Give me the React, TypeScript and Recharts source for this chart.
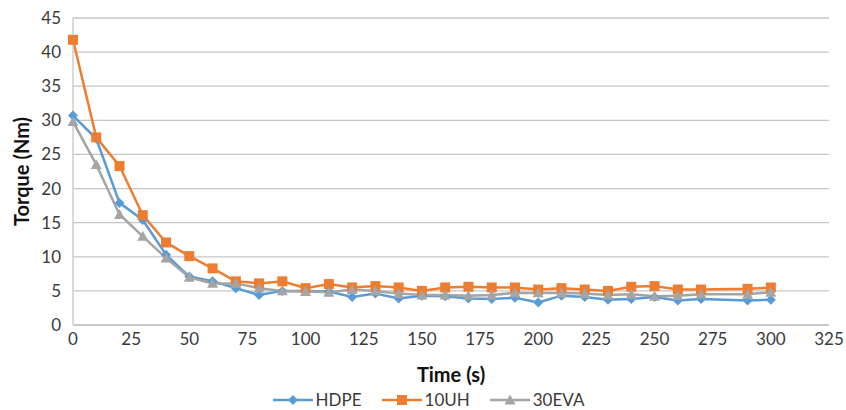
import { LineChart, Line, XAxis, YAxis, CartesianGrid, Legend } from 'recharts'

const times = [0, 10, 20, 30, 40, 50, 60, 70, 80, 90, 100, 110, 120, 130, 140, 150, 160, 170, 180, 190, 200, 210, 220, 230, 240, 250, 260, 270, 290, 300]
const hdpe = [30.7, 27.3, 17.9, 15.4, 10.3, 7.1, 6.4, 5.4, 4.4, 5.0, 5.0, 4.9, 4.1, 4.6, 3.9, 4.3, 4.2, 3.9, 3.8, 4.0, 3.3, 4.3, 4.1, 3.7, 3.8, 4.1, 3.6, 3.8, 3.6, 3.7]
const uh10 = [41.8, 27.5, 23.3, 16.1, 12.1, 10.1, 8.3, 6.4, 6.1, 6.4, 5.4, 6.0, 5.5, 5.7, 5.5, 5.0, 5.5, 5.6, 5.5, 5.5, 5.2, 5.4, 5.2, 5.0, 5.6, 5.7, 5.2, 5.2, 5.3, 5.5]
const eva30 = [29.8, 23.5, 16.2, 13.0, 9.8, 7.0, 6.1, 6.1, 5.4, 5.0, 4.9, 4.8, 5.2, 5.0, 4.6, 4.4, 4.4, 4.3, 4.4, 4.7, 4.7, 4.7, 4.6, 4.4, 4.5, 4.2, 4.3, 4.5, 4.5, 4.8]

const xTicks = [0, 25, 50, 75, 100, 125, 150, 175, 200, 225, 250, 275, 300, 325]
const yTicks = [0, 5, 10, 15, 20, 25, 30, 35, 40, 45]

const data = times.map((t, i) => ({ t, HDPE: hdpe[i], '10UH': uh10[i], '30EVA': eva30[i] }))

const FONT = 'Lato, "Open Sans", sans-serif'
const GRID = '#c6c6c6'
const TEXT = '#3a3a3a'
const COLORS = { HDPE: '#5B9BD5', '10UH': '#ED7D31', '30EVA': '#A5A5A5' }

type DotProps = { cx?: number; cy?: number; key?: string }

function Diamond({ cx, cy, fill }: DotProps & { fill: string }) {
  if (cx == null || cy == null) return null
  const r = 5
  return <path d={`M${cx},${cy - r}L${cx + r},${cy}L${cx},${cy + r}L${cx - r},${cy}Z`} fill={fill} />
}

function Square({ cx, cy, fill }: DotProps & { fill: string }) {
  if (cx == null || cy == null) return null
  const r = 5
  return <rect x={cx - r} y={cy - r} width={r * 2} height={r * 2} fill={fill} />
}

function Triangle({ cx, cy, fill }: DotProps & { fill: string }) {
  if (cx == null || cy == null) return null
  const r = 5.5
  return <path d={`M${cx},${cy - r}L${cx + r},${cy + r * 0.8}L${cx - r},${cy + r * 0.8}Z`} fill={fill} />
}

function LegendIcon({ kind, color }: { kind: string; color: string }) {
  return (
    <svg width={40} height={14} style={{ marginRight: 3 }}>
      <line x1={0} y1={7} x2={40} y2={7} stroke={color} strokeWidth={2.5} />
      {kind === 'diamond' && <Diamond cx={20} cy={7} fill={color} />}
      {kind === 'square' && <Square cx={20} cy={7} fill={color} />}
      {kind === 'triangle' && <Triangle cx={20} cy={7} fill={color} />}
    </svg>
  )
}

function ChartLegend() {
  const items = [
    { name: 'HDPE', kind: 'diamond' },
    { name: '10UH', kind: 'square' },
    { name: '30EVA', kind: 'triangle' },
  ]
  return (
    <div style={{ display: 'flex', justifyContent: 'center', alignItems: 'center', fontFamily: FONT, fontSize: 17, lineHeight: '17px', color: TEXT, paddingTop: 6, paddingLeft: 28 }}>
      {items.map(it => (
        <div key={it.name} style={{ display: 'flex', alignItems: 'center', margin: '0 10px' }}>
          <LegendIcon kind={it.kind} color={COLORS[it.name as keyof typeof COLORS]} />
          <span>{it.name}</span>
        </div>
      ))}
    </div>
  )
}

export default function App() {
  return (
    <div style={{ position: 'absolute', left: 0, top: 0, background: '#fff' }}>
      <LineChart width={846} height={410} data={data} margin={{ top: 18, right: 17, left: 0, bottom: 0 }}>
        <CartesianGrid vertical={false} stroke={GRID} strokeWidth={1.3} />
        <XAxis
          dataKey="t"
          type="number"
          domain={[0, 325]}
          ticks={xTicks}
          interval={0}
          tickLine={false}
          axisLine={{ stroke: GRID, strokeWidth: 1.3 }}
          tick={{ fontSize: 17, fill: TEXT, fontFamily: FONT }}
          height={60}
          label={{ value: 'Time (s)', position: 'insideBottom', offset: 3, style: { fontSize: 20, fontWeight: 700, fill: '#111', fontFamily: FONT } }}
        />
        <YAxis
          domain={[0, 45]}
          ticks={yTicks}
          interval={0}
          tickLine={false}
          axisLine={{ stroke: GRID, strokeWidth: 1.3 }}
          tick={{ fontSize: 17, fill: TEXT, fontFamily: FONT }}
          tickMargin={6}
          width={73}
          label={{ value: 'Torque (Nm)', angle: -90, position: 'insideLeft', offset: 22, style: { textAnchor: 'middle', fontSize: 20, fontWeight: 700, fill: '#111', fontFamily: FONT } }}
        />
        <Legend verticalAlign="bottom" height={25} content={<ChartLegend />} />
        <Line
          type="linear"
          dataKey="HDPE"
          stroke={COLORS.HDPE}
          strokeWidth={2.5}
          dot={(p: DotProps) => <Diamond key={p.key} cx={p.cx} cy={p.cy} fill={COLORS.HDPE} />}
          isAnimationActive={false}
        />
        <Line
          type="linear"
          dataKey="10UH"
          stroke={COLORS['10UH']}
          strokeWidth={2.5}
          dot={(p: DotProps) => <Square key={p.key} cx={p.cx} cy={p.cy} fill={COLORS['10UH']} />}
          isAnimationActive={false}
        />
        <Line
          type="linear"
          dataKey="30EVA"
          stroke={COLORS['30EVA']}
          strokeWidth={2.5}
          dot={(p: DotProps) => <Triangle key={p.key} cx={p.cx} cy={p.cy} fill={COLORS['30EVA']} />}
          isAnimationActive={false}
        />
      </LineChart>
    </div>
  )
}
